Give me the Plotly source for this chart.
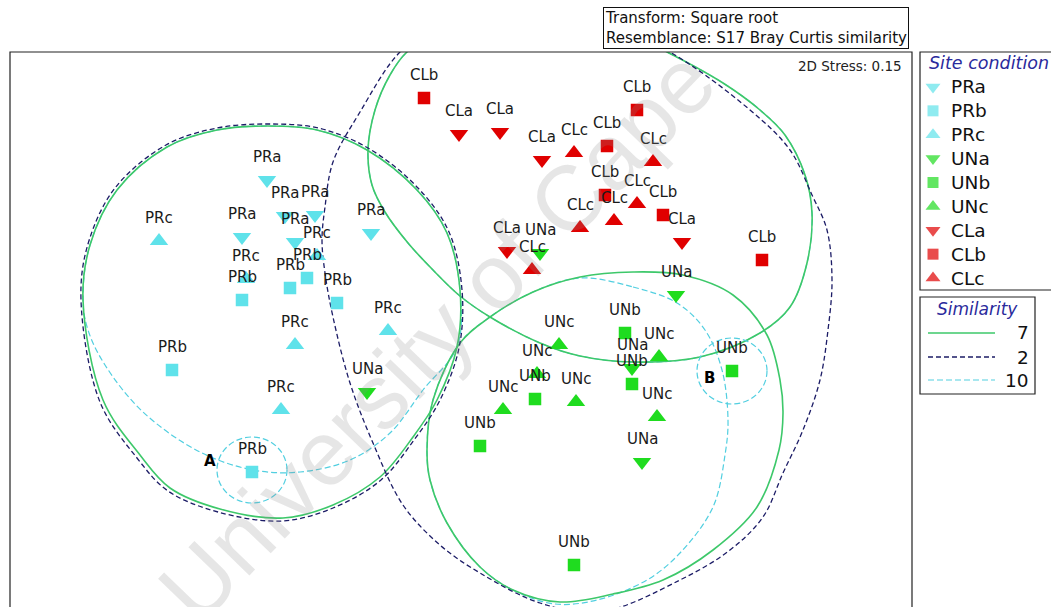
import plotly.graph_objects as go

W, H = 1051, 607

# ---- NMDS ordination scores for each site-condition group ----
PRa_x = [-1.94, -1.46, -1.76, -2.19, -0.90, -1.66]
PRa_y = [1.50, 1.15, 1.14, 0.93, 0.97, 0.88]
PRb_x = [-1.71, -1.54, -1.24, -2.19, -2.89, -2.09]
PRb_y = [0.42, 0.52, 0.27, 0.30, -0.40, -1.42]
PRc_x = [-3.02, -1.44, -2.15, -0.73, -1.66, -1.80]
PRc_y = [0.89, 0.74, 0.51, -0.01, -0.15, -0.80]
UNa_x = [0.79, 2.15, 1.71, -0.94, 1.81]
UNa_y = [0.77, 0.35, -0.38, -0.62, -1.32]
UNb_x = [1.64, 1.71, 0.74, 0.19, 2.71, 1.13]
UNb_y = [-0.03, -0.54, -0.69, -1.16, -0.41, -2.35]
UNc_x = [0.98, 1.98, 0.76, 1.15, 0.42, 1.96]
UNc_y = [-0.15, -0.27, -0.44, -0.72, -0.80, -0.87]
CLa_x = [-0.02, 0.39, 0.81, 0.46, 2.21]
CLa_y = [1.96, 1.98, 1.70, 0.79, 0.88]
CLb_x = [-0.37, 1.76, 1.46, 1.44, 2.02, 3.01]
CLb_y = [2.32, 2.20, 1.84, 1.35, 1.15, 0.70]
CLc_x = [1.13, 1.92, 1.76, 1.53, 1.19, 0.71]
CLc_y = [1.77, 1.68, 1.26, 1.09, 1.02, 0.60]

groups = ["PRa", "PRb", "PRc", "UNa", "UNb", "UNc", "CLa", "CLb", "CLc"]
group_x = [PRa_x, PRb_x, PRc_x, UNa_x, UNb_x, UNc_x, CLa_x, CLb_x, CLc_x]
group_y = [PRa_y, PRb_y, PRc_y, UNa_y, UNb_y, UNc_y, CLa_y, CLb_y, CLc_y]

# ---- cluster similarity contours (outline vertices) ----
PR7_x = [-3.78, -3.71, -3.44, -2.94, -2.44, -1.94, -1.44, -0.94, -0.44, -0.14, -0.01, -0.04,
         -0.24, -0.48, -0.81, -1.28, -1.78, -2.41, -2.91, -3.21, -3.58, -3.78]
PR7_y = [0.30, 0.85, 1.40, 1.83, 2.00, 2.04, 2.00, 1.80, 1.40, 0.97, 0.40, -0.17,
         -0.70, -1.07, -1.47, -1.75, -1.88, -1.79, -1.58, -1.25, -0.70, 0.30]
PR2_x = [-3.80, -3.73, -3.46, -2.95, -2.44, -1.94, -1.43, -0.93, -0.43, -0.12, 0.01, -0.02,
         -0.22, -0.47, -0.80, -1.28, -1.79, -2.43, -2.93, -3.24, -3.61, -3.80]
PR2_y = [0.30, 0.86, 1.42, 1.85, 2.02, 2.06, 2.02, 1.82, 1.42, 0.98, 0.40, -0.18,
         -0.72, -1.10, -1.50, -1.78, -1.91, -1.82, -1.61, -1.28, -0.72, 0.30]
PR10_x = [-3.78, -3.71, -3.44, -2.94, -2.44, -1.94, -1.44, -0.94, -0.44, -0.14, -0.01, -0.04,
          -0.38, -0.71, -1.11, -1.61, -2.08, -2.61, -3.18, -3.56, -3.73, -3.78]
PR10_y = [0.30, 0.85, 1.40, 1.83, 2.00, 2.04, 2.00, 1.80, 1.40, 0.97, 0.40, -0.17,
          -0.60, -1.03, -1.30, -1.42, -1.40, -1.22, -0.82, -0.35, 0.00, 0.30]

CL7_x = [0.79, 0.09, -0.31, -0.54, -0.71, -0.86, -0.93, -0.89, -0.76, -0.53, -0.28, -0.01, 0.29,
         0.79, 1.19, 1.72, 2.39, 2.99, 3.29, 3.46, 3.51, 3.44, 3.24, 2.99, 2.62, 2.06, 1.59, 0.79]
CL7_y = [3.12, 3.05, 2.92, 2.78, 2.55, 2.20, 1.80, 1.45, 1.18, 0.87, 0.60, 0.34, 0.13,
         -0.13, -0.26, -0.32, -0.27, -0.03, 0.23, 0.67, 1.17, 1.55, 1.95, 2.20, 2.47, 2.78, 3.00, 3.12]

UN7_x = [1.19, 1.72, 2.22, 2.72, 3.06, 3.19, 3.22, 3.18, 2.96, 2.52, 2.02, 1.52, 0.99, 0.52,
         0.19, -0.14, -0.31, -0.34, -0.28, -0.01, 0.29, 0.72, 1.19]
UN7_y = [0.53, 0.58, 0.55, 0.35, -0.05, -0.50, -0.83, -1.20, -1.77, -2.20, -2.50, -2.64, -2.72, -2.60,
         -2.37, -1.93, -1.50, -1.20, -0.70, -0.13, 0.13, 0.38, 0.53]
UN10_x = [1.19, 1.72, 2.16, 2.44, 2.61, 2.67, 2.64, 2.52, 2.19, 1.86, 1.36, 0.94, 0.52,
          0.19, -0.14, -0.31, -0.34, -0.28, -0.01, 0.29, 0.72, 1.19]
UN10_y = [0.52, 0.43, 0.27, 0.00, -0.40, -0.90, -1.25, -1.77, -2.23, -2.50, -2.70, -2.74, -2.60,
          -2.37, -1.93, -1.50, -1.20, -0.70, -0.13, 0.13, 0.38, 0.52]

ALL2_x = [0.39, -0.21, -0.61, -1.01, -1.28, -1.36, -1.39, -1.36, -1.28, -1.11, -0.88, -0.58, -0.21,
          0.19, 0.79, 1.39, 2.19, 2.69, 3.02, 3.22, 3.42, 3.59, 3.67, 3.71, 3.66, 3.51, 3.29,
          2.89, 2.09, 1.39, 0.39]
ALL2_y = [3.20, 3.05, 2.78, 2.18, 1.68, 1.23, 0.90, 0.57, 0.13, -0.53, -1.13, -1.75, -2.15,
          -2.43, -2.73, -2.82, -2.50, -2.20, -1.87, -1.43, -1.00, -0.50, 0.00, 0.50, 1.00, 1.35, 1.80,
          2.20, 2.78, 3.10, 3.20]

# single-sample contours (centre and radii)
ringA = (-2.09, -1.40, 0.35, 0.33)
ringB = (2.71, -0.41, 0.35, 0.33)

sim_levels = ["7", "2", "10"]
sim_colors = ["#3dc86a", "#1c1c66", "#52cfe0"]
sim_dash = ["solid", "5px,3px", "6px,3px"]
sim_width = [1.6, 1.3, 1.2]

FONT = "DejaVu Sans"
cyan, green, red = "#5fe2ea", "#1fdc1f", "#e00000"
group_colors = [cyan] * 3 + [green] * 3 + [red] * 3
group_symbols = ["triangle-down", "square", "triangle-up"] * 3
group_sizes = [16, 12.5, 16] * 3

fig = go.Figure()

def contour(xs, ys, k):
    fig.add_trace(go.Scatter(
        x=xs, y=ys, mode="lines",
        line=dict(color=sim_colors[k], width=sim_width[k], dash=sim_dash[k],
                  shape="spline", smoothing=1.0),
        hoverinfo="skip", showlegend=False))

# similarity 10 (cyan), then 7 (green), then 2 (navy)
contour(PR10_x, PR10_y, 2)
contour(CL7_x, CL7_y, 2)
contour(UN10_x, UN10_y, 2)
contour(PR7_x, PR7_y, 0)
contour(CL7_x, CL7_y, 0)
contour(UN7_x, UN7_y, 0)
contour(PR2_x, PR2_y, 1)
contour(ALL2_x, ALL2_y, 1)

for cx, cy, rx, ry in (ringA, ringB):
    fig.add_shape(type="circle", xref="x", yref="y",
                  x0=cx - rx, x1=cx + rx, y0=cy - ry, y1=cy + ry,
                  line=dict(color=sim_colors[2], width=1.2, dash=sim_dash[2]))

# sample markers
for g, xs, ys, col, sym, sz in zip(groups, group_x, group_y, group_colors, group_symbols, group_sizes):
    fig.add_trace(go.Scatter(
        x=xs, y=ys, mode="markers", name=g,
        marker=dict(symbol=sym, size=sz, color=col, line=dict(width=0)),
        showlegend=False, hoverinfo="skip"))

# sample labels above each point
for g, xs, ys in zip(groups, group_x, group_y):
    for xv, yv in zip(xs, ys):
        fig.add_annotation(x=xv, y=yv, xref="x", yref="y", text=g, showarrow=False,
                           xanchor="center", yanchor="middle",
                           yshift=23, font=dict(family=FONT, size=15, color="#1a1a1a"))

# ring markers A and B
fig.add_annotation(x=-2.51, y=-1.31, xref="x", yref="y", text="<b>A</b>", showarrow=False,
                   xanchor="center", yanchor="middle", font=dict(family=FONT, size=15, color="#000"))
fig.add_annotation(x=2.48, y=-0.48, xref="x", yref="y", text="<b>B</b>", showarrow=False,
                   xanchor="center", yanchor="middle", font=dict(family=FONT, size=15, color="#000"))

# ---- site-condition key ----
key_rows = list(range(len(groups)))
fig.add_trace(go.Scatter(
    x=[0.5] * len(groups), y=key_rows, xaxis="x2", yaxis="y2", mode="markers",
    marker=dict(symbol=group_symbols, size=[13, 11, 13] * 3, color=group_colors, line=dict(width=0)),
    showlegend=False, hoverinfo="skip"))
for i, g in zip(key_rows, groups):
    fig.add_annotation(x=1.5, y=i, xref="x2", yref="y2", text=g, showarrow=False,
                       xanchor="left", yanchor="middle",
                       font=dict(family=FONT, size=18.5, color="#111"))

def px_x(p):
    return p / W

def px_y(p):
    return 1 - p / H

# frame of the ordination plot
fig.add_shape(type="rect", xref="paper", yref="paper",
              x0=px_x(10), x1=px_x(912), y0=-0.03, y1=px_y(52),
              line=dict(color="#222", width=1.2))
# key boxes
fig.add_shape(type="rect", xref="paper", yref="paper",
              x0=px_x(920), x1=1.03, y0=px_y(290), y1=px_y(52),
              line=dict(color="#222", width=1.2))
fig.add_shape(type="rect", xref="paper", yref="paper",
              x0=px_x(920), x1=px_x(1035), y0=px_y(394), y1=px_y(297),
              line=dict(color="#222", width=1.2))

fig.add_annotation(x=px_x(927), y=px_y(63), xref="paper", yref="paper", text="<i>Site condition</i>",
                   showarrow=False, xanchor="left", yanchor="middle",
                   font=dict(family=FONT, size=17.5, color="#2a2a9c"))
fig.add_annotation(x=px_x(977), y=px_y(309), xref="paper", yref="paper", text="<i>Similarity</i>",
                   showarrow=False, xanchor="center", yanchor="middle",
                   font=dict(family=FONT, size=17, color="#2a2a9c"))

sim_rows = [333, 357, 380]
for lvl, row, col, dash, wd in zip(sim_levels, sim_rows, sim_colors, sim_dash, sim_width):
    fig.add_shape(type="line", xref="paper", yref="paper",
                  x0=px_x(928), x1=px_x(995), y0=px_y(row), y1=px_y(row),
                  line=dict(color=col, width=wd, dash=dash))
    fig.add_annotation(x=px_x(1031), y=px_y(row), xref="paper", yref="paper", text=lvl,
                       showarrow=False, xanchor="right", yanchor="middle",
                       font=dict(family=FONT, size=18.5, color="#111"))

# header box and stress value
fig.add_annotation(x=px_x(603), y=px_y(7), xref="paper", yref="paper",
                   text="Transform: Square root<br>Resemblance: S17 Bray Curtis similarity",
                   showarrow=False, xanchor="left", yanchor="top", align="left",
                   bordercolor="#111", borderwidth=1, borderpad=1, bgcolor="white",
                   font=dict(family=FONT, size=15, color="#111"))
fig.add_annotation(x=px_x(904), y=px_y(66), xref="paper", yref="paper", text="2D Stress: 0.15",
                   showarrow=False, xanchor="right", yanchor="middle",
                   font=dict(family=FONT, size=13.5, color="#222"))

# watermark
fig.add_annotation(x=px_x(437), y=px_y(335), xref="paper", yref="paper",
                   text="University of Cape", showarrow=False, textangle=-46,
                   xanchor="center", yanchor="middle",
                   font=dict(family="Liberation Sans", size=92, color="rgba(140,140,140,0.22)"))

fig.update_layout(
    width=W, height=H, margin=dict(l=0, r=0, t=0, b=0),
    paper_bgcolor="white", plot_bgcolor="white",
    xaxis=dict(domain=[px_x(10), px_x(912)], range=[-4.51, 4.51], visible=False, fixedrange=True),
    yaxis=dict(domain=[0, px_y(52)], range=[-2.77, 2.78], visible=False, fixedrange=True),
    xaxis2=dict(domain=[px_x(925), px_x(949)], range=[0, 1.5], visible=False, anchor="y2"),
    yaxis2=dict(domain=[px_y(290), px_y(75)], range=[8.5, -0.5], visible=False, anchor="x2"),
)

fig.write_html("out.html")
